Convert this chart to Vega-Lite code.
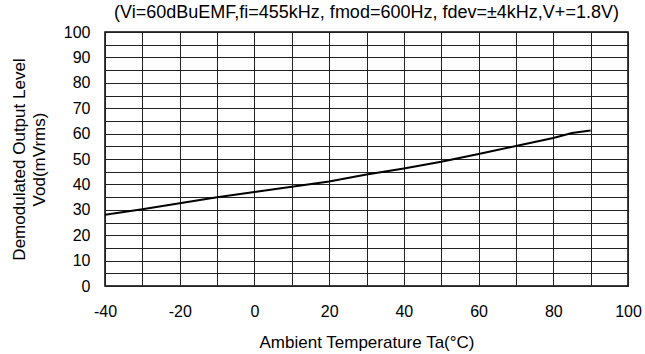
{
  "$schema": "https://vega.github.io/schema/vega-lite/v6.json",
  "width": 523,
  "height": 254,
  "autosize": {"type": "none"},
  "padding": {"left": 105, "top": 32, "right": 17, "bottom": 68},
  "background": "white",
  "title": {
    "text": "(Vi=60dBuEMF,fi=455kHz, fmod=600Hz, fdev=±4kHz,V+=1.8V)",
    "font": "Liberation Sans",
    "fontSize": 18,
    "fontWeight": "normal",
    "color": "black",
    "offset": 2,
    "anchor": "middle"
  },
  "config": {
    "view": {"stroke": "black", "strokeWidth": 1.5},
    "axis": {
      "labelFont": "Liberation Sans",
      "titleFont": "Liberation Sans",
      "labelFontSize": 16,
      "titleFontSize": 17,
      "titleFontWeight": "normal",
      "labelColor": "black",
      "titleColor": "black",
      "gridColor": "#222",
      "gridOpacity": 1,
      "gridWidth": 1,
      "domain": false,
      "ticks": false
    }
  },
  "data": {
    "values": [
      {"t": -40, "v": 28.0},
      {"t": -30, "v": 30.2},
      {"t": -20, "v": 32.6},
      {"t": -10, "v": 34.9},
      {"t": 0, "v": 37.0},
      {"t": 10, "v": 39.1},
      {"t": 20, "v": 41.1},
      {"t": 30, "v": 43.9},
      {"t": 40, "v": 46.3},
      {"t": 50, "v": 48.9},
      {"t": 60, "v": 52.0},
      {"t": 70, "v": 55.1},
      {"t": 80, "v": 58.3},
      {"t": 85, "v": 60.2},
      {"t": 90, "v": 61.2}
    ]
  },
  "mark": {"type": "line", "color": "black", "strokeWidth": 2, "clip": true},
  "encoding": {
    "x": {
      "field": "t",
      "type": "quantitative",
      "scale": {"domain": [-40, 100], "nice": false, "zero": false},
      "axis": {
        "title": "Ambient Temperature Ta(°C)",
        "values": [-40, -30, -20, -10, 0, 10, 20, 30, 40, 50, 60, 70, 80, 90, 100],
        "labelExpr": "datum.value % 20 == 0 ? '' + datum.value : ''",
        "labelPadding": 17,
        "titlePadding": 15,
        "labelFlush": false
      }
    },
    "y": {
      "field": "v",
      "type": "quantitative",
      "scale": {"domain": [0, 100], "nice": false},
      "axis": {
        "title": ["Demodulated Output Level", "Vod(mVrms)"],
        "titleLineHeight": 20,
        "values": [0, 5, 10, 15, 20, 25, 30, 35, 40, 45, 50, 55, 60, 65, 70, 75, 80, 85, 90, 95, 100],
        "labelExpr": "datum.value % 10 == 0 ? '' + datum.value : ''",
        "labelPadding": 15,
        "titlePadding": 15,
        "labelFlush": false
      }
    }
  }
}
